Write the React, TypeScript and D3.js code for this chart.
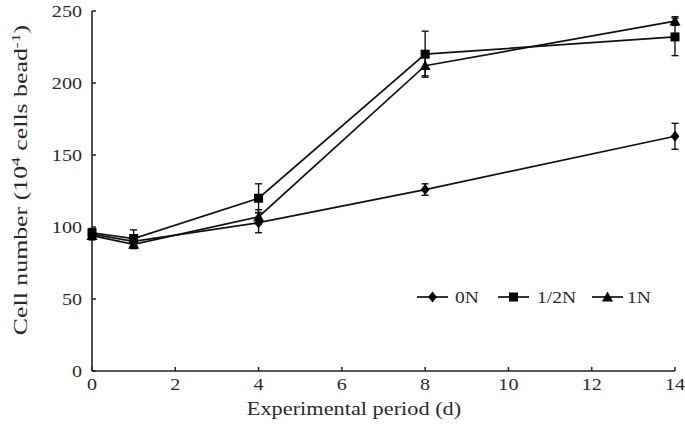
import React from "react";
import * as d3 from "d3";

const days = [0, 1, 4, 8, 14];
const seriesNames = ["0N", "1/2N", "1N"];
const values0N = [95, 90, 103, 126, 163];
const err0N = [3, 3, 7, 4, 9];
const valuesHalfN = [96, 92, 120, 220, 232];
const errHalfN = [3, 6, 10, 16, 13];
const values1N = [94, 88, 107, 212, 243];
const err1N = [3, 3, 5, 7, 3];
const xTicks = [0, 2, 4, 6, 8, 10, 12, 14];
const yTicks = [0, 50, 100, 150, 200, 250];

const series = [
  { name: seriesNames[0], values: values0N, err: err0N, marker: "diamond" },
  { name: seriesNames[1], values: valuesHalfN, err: errHalfN, marker: "square" },
  { name: seriesNames[2], values: values1N, err: err1N, marker: "triangle" },
];

const FONT = "'Liberation Serif', 'Times New Roman', serif";
const TXT = "#2a2a2a";

function Marker({ type, x, y }: { type: string; x: number; y: number }) {
  if (type === "diamond") {
    const s = 5.5;
    return <path d={`M${x},${y - s}L${x + s * 0.8},${y}L${x},${y + s}L${x - s * 0.8},${y}Z`} fill="#000" />;
  }
  if (type === "square") {
    const s = 4.5;
    return <rect x={x - s} y={y - s} width={s * 2} height={s * 2} fill="#000" />;
  }
  const s = 5.5;
  return <path d={`M${x},${y - s}L${x + s},${y + s * 0.8}L${x - s},${y + s * 0.8}Z`} fill="#000" />;
}

function SText({ x, y, anchor = "start", size, children, dy, sx = 1.15 }: any) {
  return (
    <text
      transform={`translate(${x},${y}) scale(${sx},1)`}
      textAnchor={anchor}
      dy={dy}
      fontFamily={FONT}
      fontSize={size}
      fill={TXT}
    >
      {children}
    </text>
  );
}

export default function App() {
  const W = 685, H = 425;
  const x = d3.scaleLinear().domain([0, 14]).range([92, 675]);
  const y = d3.scaleLinear().domain([0, 250]).range([371, 11]);
  const line = d3.line<number>().x((_, i) => x(days[i])).y((v) => y(v));

  const legendLineX = [417, 498, 592];
  const legendTextX = [455, 537, 627];
  const legendY = 297;

  return (
    <svg width={W} height={H} style={{ position: "absolute", left: 0, top: 0, background: "#fff" }}>
      {/* axes */}
      <line x1={x(0)} x2={x(0)} y1={y(250)} y2={y(0)} stroke="#222" strokeWidth={1.6} />
      <line x1={x(0)} x2={x(14)} y1={y(0)} y2={y(0)} stroke="#222" strokeWidth={1.6} />
      {yTicks.map((t) => (
        <g key={"y" + t}>
          <line x1={x(0)} x2={x(0) + 4} y1={y(t)} y2={y(t)} stroke="#222" strokeWidth={1.5} />
          <SText x={x(0) - 10} y={y(t)} dy="0.35em" anchor="end" size={17.5}>
            {t}
          </SText>
        </g>
      ))}
      {xTicks.map((t) => (
        <g key={"x" + t}>
          <line x1={x(t)} x2={x(t)} y1={y(0)} y2={y(0) - 4} stroke="#222" strokeWidth={1.5} />
          <SText x={x(t)} y={y(0) + 19} anchor="middle" size={17.5}>
            {t}
          </SText>
        </g>
      ))}
      <SText x={354} y={415} anchor="middle" size={18} sx={1.24}>
        Experimental period (d)
      </SText>
      <text
        transform={`translate(27,180) rotate(-90) scale(1.36,1)`}
        textAnchor="middle"
        fontFamily={FONT}
        fontSize={19}
        fill={TXT}
      >
        Cell number (10
        <tspan dy={-7} fontSize={13}>4</tspan>
        <tspan dy={7}> cells bead</tspan>
        <tspan dy={-7} fontSize={13}>-1</tspan>
        <tspan dy={7}>)</tspan>
      </text>

      {/* series */}
      {series.map((s) => (
        <g key={s.name}>
          <path d={line(s.values) || ""} fill="none" stroke="#111" strokeWidth={1.7} />
          {s.values.map((v, i) => {
            const cx = x(days[i]);
            const e = s.err[i];
            return (
              <g key={i}>
                <line x1={cx} x2={cx} y1={y(v + e)} y2={y(v - e)} stroke="#111" strokeWidth={1.4} />
                <line x1={cx - 3.5} x2={cx + 3.5} y1={y(v + e)} y2={y(v + e)} stroke="#111" strokeWidth={1.4} />
                <line x1={cx - 3.5} x2={cx + 3.5} y1={y(v - e)} y2={y(v - e)} stroke="#111" strokeWidth={1.4} />
                <Marker type={s.marker} x={cx} y={y(v)} />
              </g>
            );
          })}
        </g>
      ))}

      {/* legend */}
      {series.map((s, i) => (
        <g key={"lg" + s.name}>
          <line x1={legendLineX[i]} x2={legendLineX[i] + 31} y1={legendY} y2={legendY} stroke="#111" strokeWidth={1.7} />
          <Marker type={s.marker} x={legendLineX[i] + 15.5} y={legendY} />
          <SText x={legendTextX[i]} y={legendY} dy="0.35em" size={17}>
            {s.name}
          </SText>
        </g>
      ))}
    </svg>
  );
}
